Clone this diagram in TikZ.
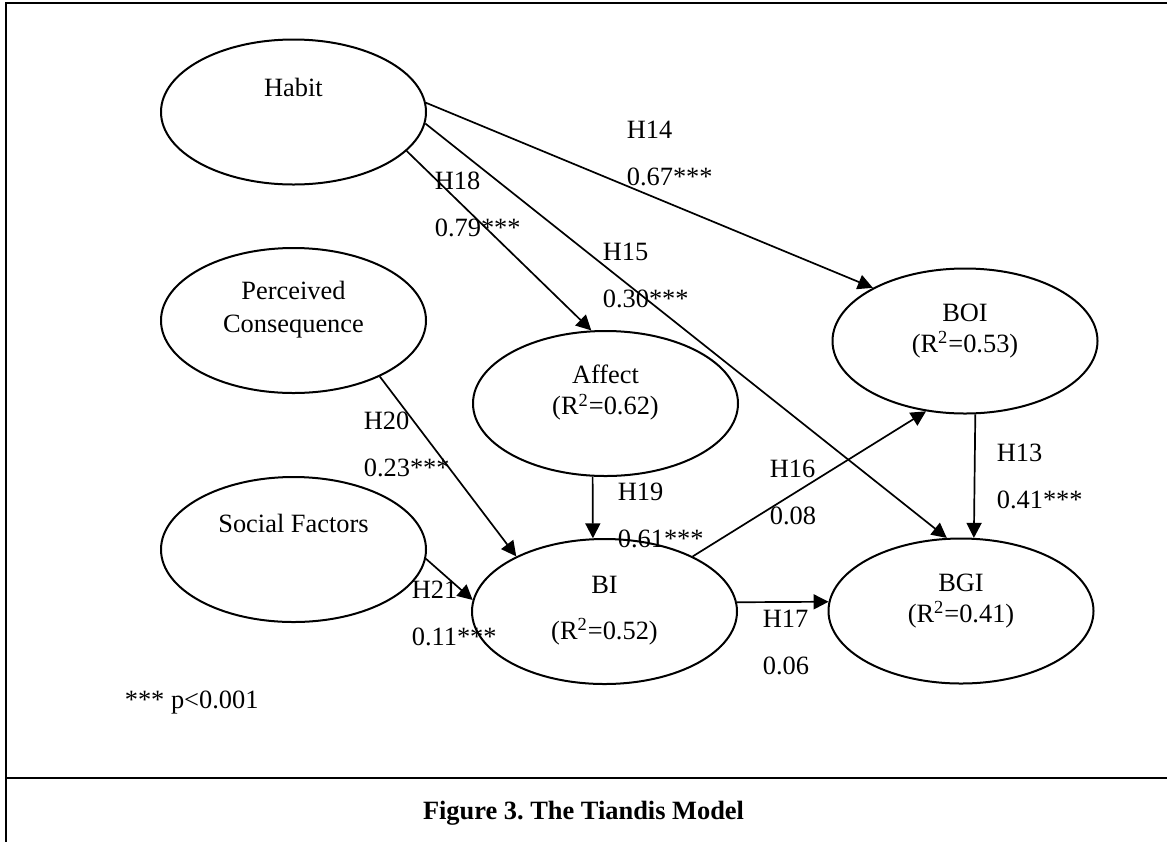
\documentclass[tikz,border=0pt]{standalone}
\usepackage{fontspec}
\setmainfont{Liberation Serif}
\usetikzlibrary{shapes.geometric, arrows.meta}
\frenchspacing

\begin{document}
\begin{tikzpicture}[x=.5pt, y=-.5pt, line width=.8pt,
    konstrukt/.style={ellipse, draw, line width=1pt, minimum width=132.5pt, minimum height=72.5pt, inner sep=0pt},
    pfad/.style={-{Triangle[length=7.5pt, width=7.5pt]}, line width=.85pt},
    txt/.style={font=\fontsize{13.2}{15.5}\selectfont, align=center, inner sep=0pt},
    wert/.style={font=\fontsize{13.2}{23.5}\selectfont, align=left, anchor=west, inner sep=0pt}]
    \useasboundingbox (0,0) rectangle (1167,842);

    % Rahmen.
    \draw[line width=1.2pt] (1167,3) -- (5.7,3) -- (5.7,842);
    \draw[line width=1.2pt] (5.7,778) -- (1167,778);

    % Ellipsen.
    \node[konstrukt] (habit) at (293.5,112) {};
    \node[konstrukt] (konsequenz) at (293.5,320.5) {};
    \node[konstrukt] (sozial) at (293.5,549.5) {};
    \node[konstrukt] (affect) at (605.5,403.5) {};
    \node[konstrukt] (bi) at (604.5,611.5) {};
    \node[konstrukt] (boi) at (965,341) {};
    \node[konstrukt] (bgi) at (961,611) {};

    % Beschriftung der Ellipsen.
    \node[txt] (habit-t) at (293.5,87) {Habit};
    \node[txt] (konsequenz-t) at (293.5,310) {Perceived\\[1pt]Consequence};
    \node[txt] (sozial-t) at (293.5,523) {Social Factors};
    \node[txt] (affect-t) at (605.5,393) {Affect\\(R\textsuperscript{2}=0.62)};
    \node[txt] (bi-t) at (604.5,585) {BI};
    \node[txt] (bi-r) at (604.5,632) {(R\textsuperscript{2}=0.52)};
    \node[txt] (boi-t) at (965,331) {BOI\\(R\textsuperscript{2}=0.53)};
    \node[txt] (bgi-t) at (961,601) {BGI\\(R\textsuperscript{2}=0.41)};

    % Pfade.
    \draw[pfad] (habit.4) -- (boi.150);
    \draw[pfad] (habit.-5) -- (bgi.101);
    \draw[pfad] (habit.-19) -- (affect.101);
    \draw[pfad] (konsequenz.-33) -- (bi.148);
    \draw[pfad] (sozial.-4) -- (bi.175);
    \draw[pfad] (affect.-100) -- (bi.99);
    \draw[pfad] (bi.32) -- (boi.-119);
    \draw[pfad] (bi.4) -- (bgi.176);
    \draw[pfad] (boi.-82) -- (bgi.80);

    % Beschriftung der Pfade.
    \foreach \x/\y/\h/\w in {626/153.5/H14/0.67***, 434/204.5/H18/0.79***,
                             602/275.5/H15/0.30***, 363/444.5/H20/0.23***,
                             617/515/H19/0.61***, 769/492.5/H16/0.08,
                             996/476.5/H13/0.41***, 411/613/H21/0.11***,
                             762/642.5/H17/0.06}
    {
        \node[wert] (l-\h) at (\x,\y) {\h\\\w};
    }

    % Legende und Titel.
    \node[txt, anchor=west] (signifikanz) at (124,703) {*** p<0.001};
    \node[txt, font=\fontsize{13.2}{15.5}\selectfont\bfseries] (titel) at (583.5,813) {Figure 3. The Tiandis Model};
\end{tikzpicture}
\end{document}
